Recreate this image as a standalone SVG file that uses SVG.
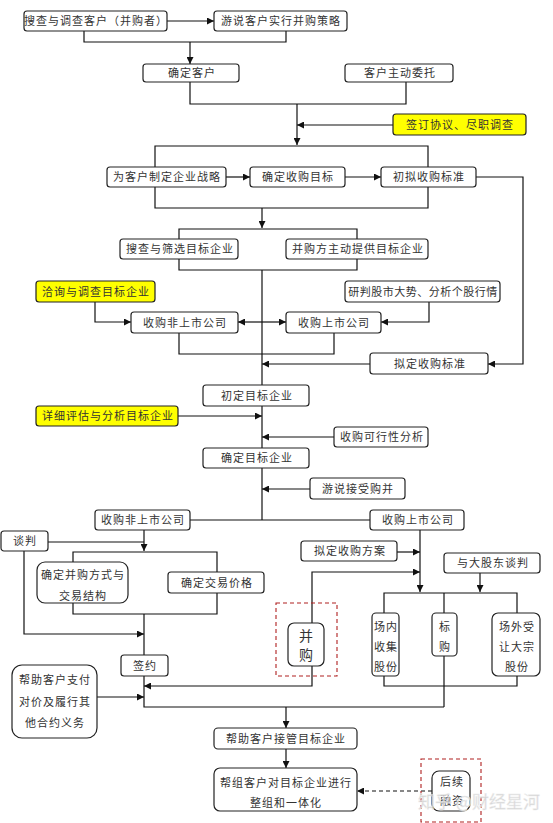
<svg xmlns="http://www.w3.org/2000/svg" width="553" height="823" viewBox="0 0 553 823">
<style>
.b{fill:#fff;stroke:#222;stroke-width:1.2}
.y{fill:#ffff00;stroke:#222;stroke-width:1.2}
.d{fill:none;stroke:#b02020;stroke-width:1.1;stroke-dasharray:4,3}
.c path{fill:none;stroke:#111;stroke-width:1.2}
text{font-family:"Noto Sans CJK SC","Noto Sans CJK JP",sans-serif;font-size:11px;fill:#333;text-anchor:middle;letter-spacing:1px}
.big{font-size:14px;letter-spacing:0}
.wm{font-size:17px;fill:#c8c8c8;fill-opacity:0.8;stroke:#eee;stroke-width:0.5;letter-spacing:0;text-anchor:start}
</style>
<defs>
<marker id="a" viewBox="0 0 10 10" refX="10" refY="5" markerWidth="8" markerHeight="7" orient="auto" markerUnits="userSpaceOnUse"><path d="M0,0 L10,5 L0,10 z" fill="#111"/></marker>
</defs>
<g class="c" id="connectors">
<path d="M167,21 H214" marker-end="url(#a)"/>
<path d="M84,31 V42 H286 V31"/>
<path d="M190,42 V64" marker-end="url(#a)"/>
<path d="M190,82 V104 H406 V82"/>
<path d="M297,104 V145" marker-end="url(#a)"/>
<path d="M393,125 H297" marker-end="url(#a)"/>
<path d="M155,167 V146 H428 V167"/>
<path d="M226,177 H250" marker-end="url(#a)"/>
<path d="M345,177 H381" marker-end="url(#a)"/>
<path d="M155,187 V208 H428 V187"/>
<path d="M476,177 H523 V364 H488" marker-end="url(#a)"/>
<path d="M262,208 V228" marker-end="url(#a)"/>
<path d="M179,239 V229 H357 V239"/>
<path d="M179,259 V270 H357 V259"/>
<path d="M262,270 V385"/>
<path d="M262,322 H238" marker-end="url(#a)"/>
<path d="M262,322 H286" marker-end="url(#a)"/>
<path d="M95,302 V322 H131" marker-end="url(#a)"/>
<path d="M429,302 V322 H381" marker-end="url(#a)"/>
<path d="M179,333 V354 H334 V333"/>
<path d="M370,364 H262" marker-end="url(#a)"/>
<path d="M262,406 V448"/>
<path d="M178,416 H262" marker-end="url(#a)"/>
<path d="M334,437 H262" marker-end="url(#a)"/>
<path d="M262,468 V520"/>
<path d="M310,489 H262" marker-end="url(#a)"/>
<path d="M190,520 H370"/>
<path d="M144,530 V551" marker-end="url(#a)"/>
<path d="M48,542 H144"/>
<path d="M73,562 V552 H217 V572"/>
<path d="M73,603 V614 H217 V593"/>
<path d="M144,614 V655"/>
<path d="M24,551 V634 H144" marker-end="url(#a)"/>
<path d="M144,676 V707 H444"/>
<path d="M97,697 H144" marker-end="url(#a)"/>
<path d="M312,666 V686 H144" marker-end="url(#a)"/>
<path d="M312,623 V572 H420" marker-end="url(#a)"/>
<path d="M397,552 H420" marker-end="url(#a)"/>
<path d="M420,530 V592" marker-end="url(#a)"/>
<path d="M480,573 V592" marker-end="url(#a)"/>
<path d="M384,613 V593 H517 V613"/>
<path d="M384,676 V686 H517 V676"/>
<path d="M444,593 V613"/>
<path d="M444,656 V707"/>
<path d="M286,707 V728" marker-end="url(#a)"/>
<path d="M286,749 V768" marker-end="url(#a)"/>
<path d="M432,791 H357" stroke-dasharray="4,3" marker-end="url(#a)"/>
</g>
<g id="n1"><rect class="b" x="24" y="11" width="143" height="20" rx="3"/><text x="96" y="25">搜查与调查客户（并购者）</text></g>
<g id="n2"><rect class="b" x="214" y="11" width="133" height="20" rx="3"/><text x="281" y="25">游说客户实行并购策略</text></g>
<g id="n3"><rect class="b" x="143" y="64" width="96" height="18" rx="3"/><text x="192" y="77">确定客户</text></g>
<g id="n4"><rect class="b" x="345" y="64" width="108" height="18" rx="3"/><text x="400" y="77">客户主动委托</text></g>
<g id="y1"><rect class="y" x="393" y="114" width="133" height="21" rx="3"/><text x="460" y="129">签订协议、尽职调查</text></g>
<g id="n5"><rect class="b" x="107" y="167" width="119" height="20" rx="3"/><text x="167" y="181">为客户制定企业战略</text></g>
<g id="n6"><rect class="b" x="250" y="167" width="95" height="20" rx="3"/><text x="298" y="181">确定收购目标</text></g>
<g id="n7"><rect class="b" x="381" y="167" width="95" height="20" rx="3"/><text x="429" y="181">初拟收购标准</text></g>
<g id="n8"><rect class="b" x="120" y="239" width="118" height="20" rx="3"/><text x="180" y="253">搜查与筛选目标企业</text></g>
<g id="n9"><rect class="b" x="286" y="239" width="142" height="20" rx="3"/><text x="358" y="253">并购方主动提供目标企业</text></g>
<g id="y2"><rect class="y" x="36" y="281" width="119" height="21" rx="3"/><text x="96" y="296">洽询与调查目标企业</text></g>
<g id="n12"><rect class="b" x="345" y="281" width="155" height="21" rx="3"/><text x="423" y="296" style="letter-spacing:0.5px">研判股市大势、分析个股行情</text></g>
<g id="n10"><rect class="b" x="131" y="312" width="107" height="21" rx="3"/><text x="185" y="327">收购非上市公司</text></g>
<g id="n11"><rect class="b" x="286" y="312" width="95" height="21" rx="3"/><text x="334" y="327">收购上市公司</text></g>
<g id="n13"><rect class="b" x="370" y="353" width="118" height="21" rx="3"/><text x="430" y="368">拟定收购标准</text></g>
<g id="n14"><rect class="b" x="203" y="385" width="106" height="21" rx="3"/><text x="257" y="400">初定目标企业</text></g>
<g id="y3"><rect class="y" x="36" y="406" width="142" height="20" rx="3"/><text x="108" y="420">详细评估与分析目标企业</text></g>
<g id="n15"><rect class="b" x="334" y="427" width="94" height="20" rx="3"/><text x="382" y="441">收购可行性分析</text></g>
<g id="n16"><rect class="b" x="203" y="448" width="106" height="20" rx="3"/><text x="257" y="462">确定目标企业</text></g>
<g id="n17"><rect class="b" x="310" y="478" width="95" height="21" rx="3"/><text x="358" y="493">游说接受购并</text></g>
<g id="n18"><rect class="b" x="95" y="510" width="95" height="20" rx="3"/><text x="143" y="524">收购非上市公司</text></g>
<g id="n19"><rect class="b" x="370" y="510" width="94" height="20" rx="3"/><text x="418" y="524">收购上市公司</text></g>
<g id="n20"><rect class="b" x="1" y="531" width="47" height="20" rx="3"/><text x="25" y="545">谈判</text></g>
<g id="n21"><rect class="b" x="37" y="562" width="91" height="41" rx="8"/><text x="83" y="579">确定并购方式与</text><text x="83" y="600">交易结构</text></g>
<g id="n22"><rect class="b" x="168" y="572" width="96" height="21" rx="3"/><text x="217" y="587">确定交易价格</text></g>
<g id="n23"><rect class="b" x="301" y="541" width="96" height="20" rx="3"/><text x="350" y="555">拟定收购方案</text></g>
<g id="n24"><rect class="b" x="444" y="553" width="96" height="20" rx="3"/><text x="493" y="567">与大股东谈判</text></g>
<g id="n25"><rect class="d" x="276" y="603" width="61" height="73"/><rect class="b" x="288" y="623" width="36" height="43" rx="6"/><text class="big" x="306" y="641">并</text><text class="big" x="306" y="660">购</text></g>
<g id="n26"><rect class="b" x="372" y="613" width="27" height="63" rx="4"/><text x="386" y="631">场内</text><text x="386" y="651">收集</text><text x="386" y="671">股份</text></g>
<g id="n27"><rect class="b" x="432" y="613" width="25" height="43" rx="4"/><text x="445" y="631">标</text><text x="445" y="651">购</text></g>
<g id="n28"><rect class="b" x="492" y="613" width="48" height="63" rx="6"/><text x="517" y="631">场外受</text><text x="517" y="651">让大宗</text><text x="517" y="671">股份</text></g>
<g id="n29"><rect class="b" x="121" y="655" width="47" height="21" rx="3"/><text x="145" y="670">签约</text></g>
<g id="n30"><rect class="b" x="12" y="665" width="85" height="73" rx="10"/><text x="55" y="684">帮助客户支付</text><text x="55" y="706">对价及履行其</text><text x="55" y="727">他合约义务</text></g>
<g id="n31"><rect class="b" x="214" y="728" width="143" height="21" rx="4"/><text x="286" y="743">帮助客户接管目标企业</text></g>
<g id="n32"><rect class="b" x="214" y="768" width="143" height="43" rx="6"/><text x="286" y="787">帮组客户对目标企业进行</text><text x="286" y="807">整组和一体化</text></g>
<g id="n33"><rect class="d" x="421" y="759" width="60" height="63"/><rect class="b" x="432" y="771" width="38" height="40" rx="7"/><text x="452" y="786">后续</text><text x="452" y="805">融资</text></g>
<text class="wm" x="418" y="808">知乎 @财经星河</text>
</svg>
